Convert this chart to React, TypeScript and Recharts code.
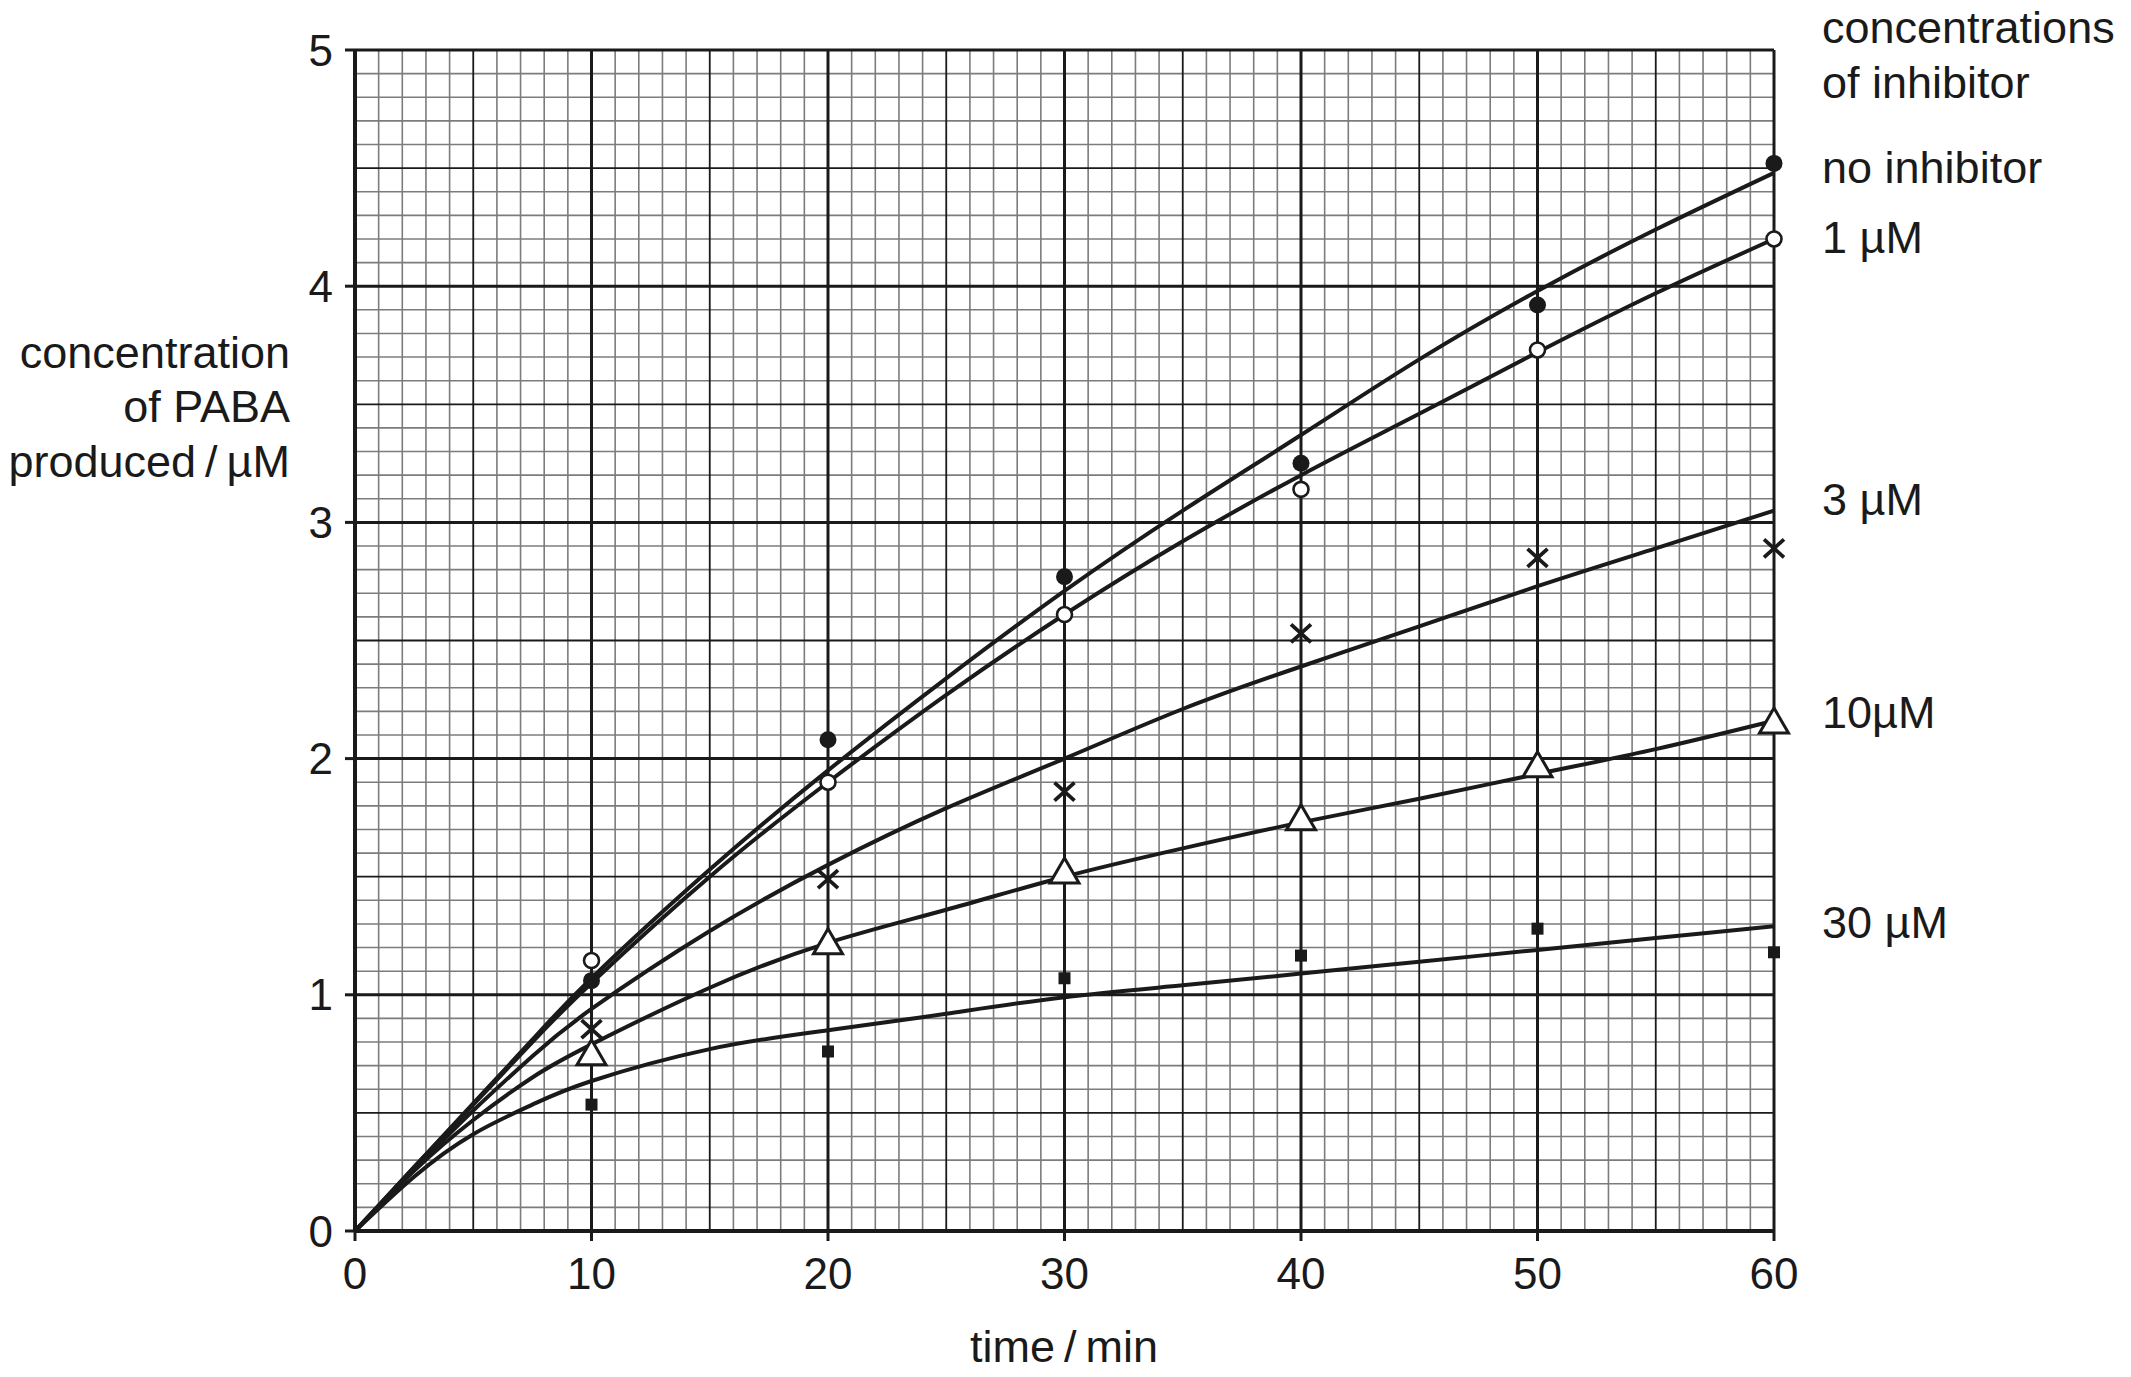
import React from 'react';
import { CartesianGrid, ComposedChart, Line, Scatter, XAxis, YAxis } from 'recharts';

// measured time points (min)
const sampleTimes = [10, 20, 30, 40, 50, 60];
const noInhibitorPoints = [1.06, 2.08, 2.77, 3.25, 3.92, 4.52];
const oneMicroPoints = [1.145, 1.9, 2.61, 3.14, 3.73, 4.2];
const threeMicroPoints = [0.855, 1.49, 1.86, 2.53, 2.85, 2.89];
const tenMicroPoints = [0.75, 1.22, 1.52, 1.745, 1.97, 2.155];
const thirtyMicroPoints = [0.535, 0.76, 1.07, 1.166, 1.28, 1.18];

// hand drawn best-fit curves
const curveTimes = [0, 2.5, 5, 7.5, 10, 15, 20, 25, 30, 35, 40, 45, 50, 55, 60];
const noInhibitorCurve = [0, 0.27, 0.54, 0.81, 1.07, 1.53, 1.95, 2.34, 2.71, 3.05, 3.37, 3.69, 3.98, 4.24, 4.48];
const oneMicroCurve = [0, 0.27, 0.535, 0.8, 1.05, 1.5, 1.9, 2.27, 2.61, 2.92, 3.2, 3.46, 3.72, 3.97, 4.2];
const threeMicroCurve = [0, 0.26, 0.51, 0.74, 0.94, 1.27, 1.55, 1.79, 2.0, 2.21, 2.39, 2.56, 2.73, 2.89, 3.05];
const tenMicroCurve = [0, 0.255, 0.47, 0.65, 0.79, 1.03, 1.22, 1.36, 1.5, 1.62, 1.73, 1.83, 1.935, 2.04, 2.16];
const thirtyMicroCurve = [0, 0.23, 0.41, 0.535, 0.635, 0.77, 0.85, 0.92, 0.99, 1.04, 1.09, 1.14, 1.19, 1.24, 1.29];

const xTicks = [0, 10, 20, 30, 40, 50, 60];
const yTicks = [0, 1, 2, 3, 4, 5];

// graph paper
const minorX = Array.from({ length: 61 }, (_, i) => i).filter((v) => v % 5 !== 0);
const mediumX = [5, 15, 25, 35, 45, 55];
const majorX = [10, 20, 30, 40, 50, 60];
const minorY = Array.from({ length: 51 }, (_, i) => i / 10).filter((_, i) => i % 5 !== 0);
const mediumY = [0.5, 1.5, 2.5, 3.5, 4.5];
const majorY = [1, 2, 3, 4, 5];

const INK = '#1a1a1a';
const FONT = '"Liberation Sans", Arial, Helvetica, sans-serif';

const toRows = (xs: number[], ys: number[]) => xs.map((t, i) => ({ t, v: ys[i] }));

const FilledCircle = (p: any) => <circle cx={p.cx} cy={p.cy} r={8.5} fill={INK} />;
const OpenCircle = (p: any) => <circle cx={p.cx} cy={p.cy} r={7.5} fill="#fff" stroke={INK} strokeWidth={2.6} />;
const Cross = (p: any) => (
    <g stroke={INK} strokeWidth={3.8}>
        <line x1={p.cx - 10} y1={p.cy - 9} x2={p.cx + 10} y2={p.cy + 9} />
        <line x1={p.cx - 10} y1={p.cy + 9} x2={p.cx + 10} y2={p.cy - 9} />
    </g>
);
const Triangle = (p: any) => (
    <polygon
        points={`${p.cx},${p.cy - 14} ${p.cx - 14.5},${p.cy + 11} ${p.cx + 14.5},${p.cy + 11}`}
        fill="#fff"
        stroke={INK}
        strokeWidth={3}
    />
);
const Square = (p: any) => <rect x={p.cx - 6} y={p.cy - 6} width={12} height={12} fill={INK} />;

const curves = [noInhibitorCurve, oneMicroCurve, threeMicroCurve, tenMicroCurve, thirtyMicroCurve];
const markers = [
    { values: noInhibitorPoints, shape: FilledCircle },
    { values: oneMicroPoints, shape: OpenCircle },
    { values: threeMicroPoints, shape: Cross },
    { values: tenMicroPoints, shape: Triangle },
    { values: thirtyMicroPoints, shape: Square },
];

const App: React.FC = () => {
    return (
        <div style={{ position: 'absolute', left: 0, top: 0, width: 2131, height: 1377, background: '#fff' }}>
            <ComposedChart width={2131} height={1377} margin={{ top: 50, right: 357, bottom: 86, left: 295 }}>
                <CartesianGrid
                    horizontalValues={minorY}
                    verticalValues={minorX}
                    stroke="#7c7c7c"
                    strokeWidth={1.6}
                    fill="#fff"
                />
                <CartesianGrid horizontalValues={mediumY} verticalValues={mediumX} stroke={INK} strokeWidth={1.8} />
                <CartesianGrid horizontalValues={majorY} verticalValues={majorX} stroke={INK} strokeWidth={3} />
                <XAxis
                    dataKey="t"
                    type="number"
                    domain={[0, 60]}
                    ticks={xTicks}
                    height={60}
                    axisLine={{ stroke: INK, strokeWidth: 4 }}
                    tickLine={{ stroke: INK, strokeWidth: 3 }}
                    tickSize={10}
                    tickMargin={17}
                    tick={{ fill: INK, fontSize: 44, fontFamily: FONT }}
                />
                <YAxis
                    type="number"
                    domain={[0, 5]}
                    ticks={yTicks}
                    width={60}
                    axisLine={{ stroke: INK, strokeWidth: 4 }}
                    tickLine={{ stroke: INK, strokeWidth: 3 }}
                    tickSize={10}
                    tickMargin={12}
                    tick={{ fill: INK, fontSize: 44, fontFamily: FONT }}
                />
                {curves.map((c, i) => (
                    <Line
                        key={`curve-${i}`}
                        data={toRows(curveTimes, c)}
                        dataKey="v"
                        type="natural"
                        stroke={INK}
                        strokeWidth={4}
                        dot={false}
                        activeDot={false}
                        isAnimationActive={false}
                    />
                ))}
                {markers.map((m, i) => (
                    <Scatter
                        key={`pts-${i}`}
                        data={toRows(sampleTimes, m.values)}
                        dataKey="v"
                        shape={m.shape}
                        isAnimationActive={false}
                    />
                ))}
            </ComposedChart>
            <svg
                width={2131}
                height={1377}
                style={{ position: 'absolute', left: 0, top: 0, pointerEvents: 'none' }}
                fontFamily={FONT}
                fontSize={45}
                fill={INK}
            >
                <text x={290} y={368} textAnchor="end">concentration</text>
                <text x={290} y={422} textAnchor="end">of PABA</text>
                <text x={290} y={477} textAnchor="end">produced{'\u2009/\u2009'}µM</text>
                <text x={1064} y={1362} textAnchor="middle">time{'\u2009/\u2009'}min</text>
                <text x={1822} y={43}>concentrations</text>
                <text x={1822} y={98}>of inhibitor</text>
                <text x={1822} y={183}>no inhibitor</text>
                <text x={1822} y={253}>1 µM</text>
                <text x={1822} y={515}>3 µM</text>
                <text x={1822} y={728}>10µM</text>
                <text x={1822} y={938}>30 µM</text>
            </svg>
        </div>
    );
};

export default App;
